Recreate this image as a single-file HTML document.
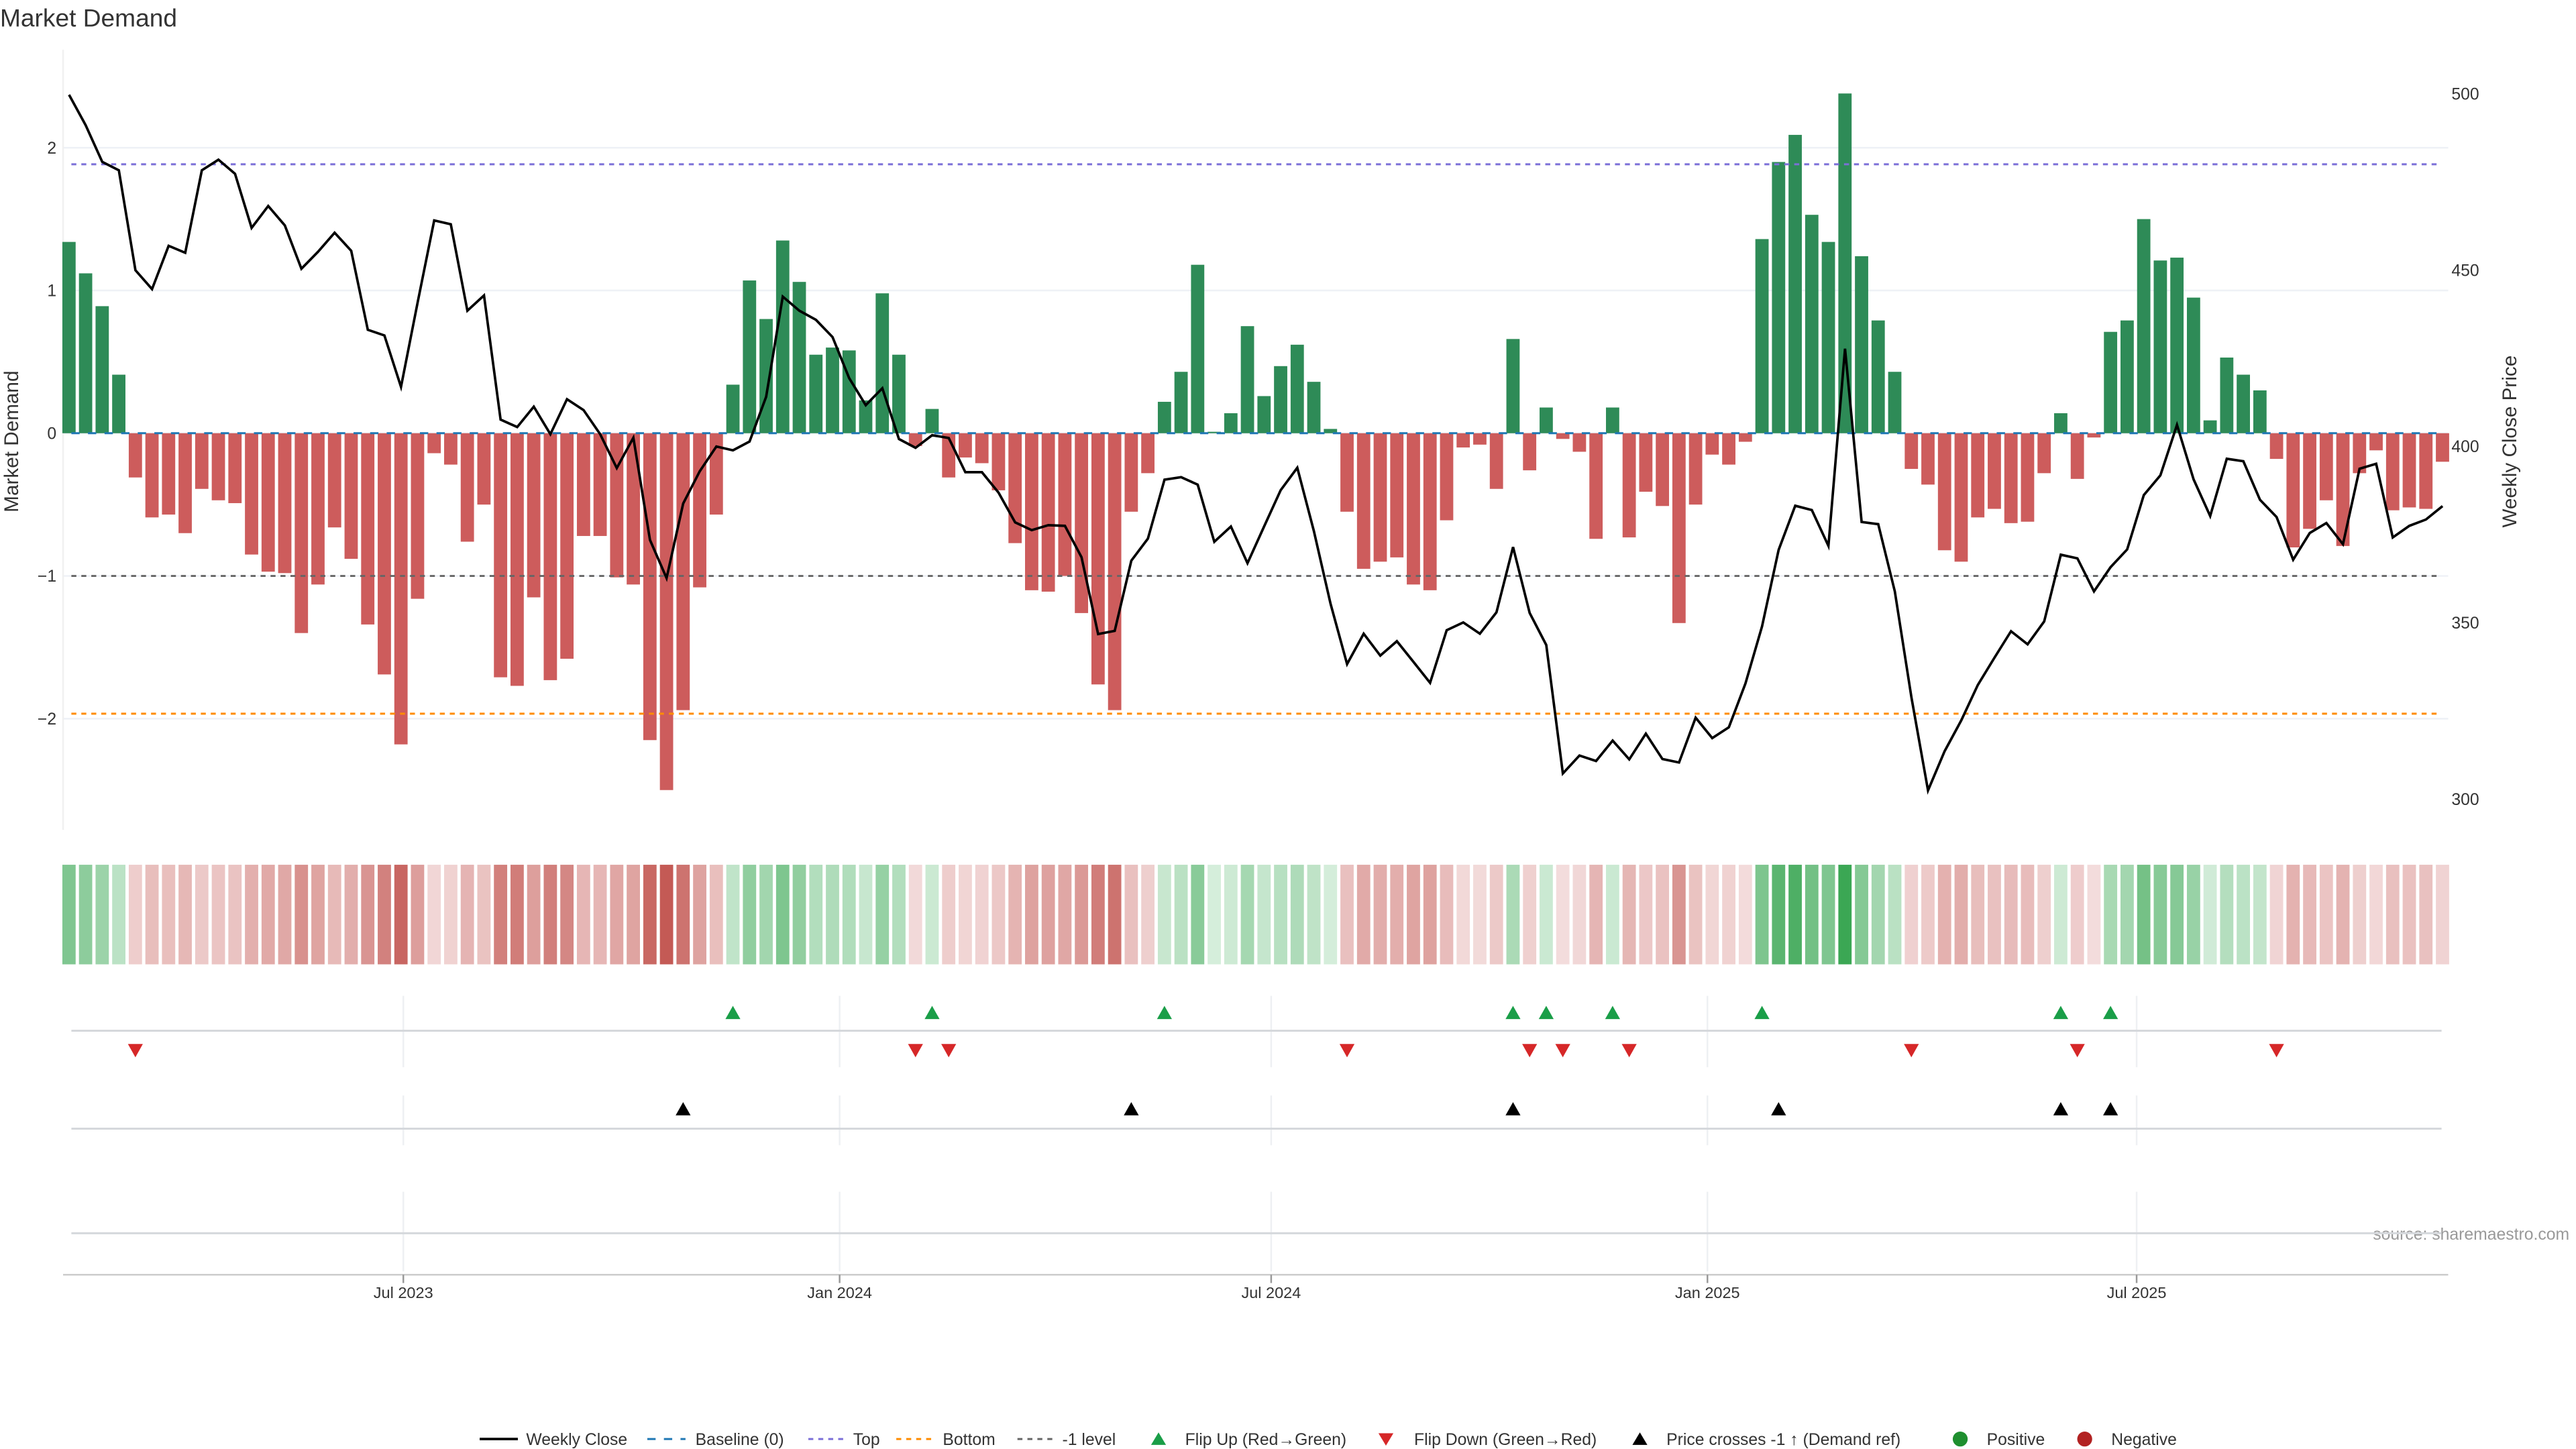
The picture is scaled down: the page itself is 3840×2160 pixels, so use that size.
<!DOCTYPE html>
<html><head><meta charset="utf-8"><title>Market Demand</title>
<style>
html,body{margin:0;padding:0;background:#fff;}
svg{display:block;font-family:"Liberation Sans","DejaVu Sans",sans-serif;}
</style></head>
<body>
<svg id="chart" width="3840" height="2160" viewBox="0 0 1552 873" xmlns="http://www.w3.org/2000/svg">
<text x="0" y="16" font-size="15" fill="#333">Market Demand</text>
<text x="0" y="0" font-size="12" fill="#333" text-anchor="middle" transform="translate(11,266) rotate(-90)">Market Demand</text>
<text x="0" y="0" font-size="12" fill="#333" text-anchor="middle" transform="translate(1516,266) rotate(-90)">Weekly Close Price</text>
<text x="1548" y="747" font-size="10" fill="#999" text-anchor="end">source: sharemaestro.com</text>
<g id="grid"></g><g id="bars"></g><g id="refs"></g><g id="line"></g><g id="heat"></g><g id="markers"></g><g id="axes"></g><g id="legend"></g>
</svg>
<script>
const startDate = '2023-02-10';
const demand = [1.34,1.12,0.89,0.41,-0.31,-0.59,-0.57,-0.70,-0.39,-0.47,-0.49,-0.85,-0.97,-0.98,-1.40,-1.06,-0.66,-0.88,-1.34,-1.69,-2.18,-1.16,-0.14,-0.22,-0.76,-0.50,-1.71,-1.77,-1.15,-1.73,-1.58,-0.72,-0.72,-1.01,-1.06,-2.15,-2.50,-1.94,-1.08,-0.57,
0.34,1.07,0.80,1.35,1.06,0.55,0.60,0.58,0.23,0.98,0.55,-0.09,0.17,-0.31,-0.17,-0.21,-0.40,-0.77,-1.10,-1.11,-1.00,-1.26,-1.76,-1.94,-0.55,-0.28,0.22,0.43,1.18,0.01,
0.14,0.75,0.26,0.47,0.62,0.36,0.03,-0.55,-0.95,-0.90,-0.87,-1.06,-1.10,-0.61,-0.10,-0.08,-0.39,0.66,-0.26,0.18,-0.04,-0.13,-0.74,0.18,-0.73,-0.41,-0.51,-1.33,-0.50,-0.15,
-0.22,-0.06,1.36,1.90,2.09,1.53,1.34,2.38,1.24,0.79,0.43,-0.25,-0.36,-0.82,-0.90,-0.59,-0.53,-0.63,-0.62,-0.28,0.14,-0.32,-0.03,0.71,0.79,1.50,1.21,1.23,0.95,0.09,0.53,0.41,
0.30,-0.18,-0.80,-0.67,-0.47,-0.79,-0.28,-0.12,-0.54,-0.52,-0.53,-0.20];
const price = [499.7,491.1,480.7,478.3,450.0,444.6,456.9,454.9,478.3,481.3,477.3,462.0,468.2,462.7,450.4,455.2,460.6,455.5,433.1,431.5,416.9,440.8,464.1,463.0,438.5,442.8,407.6,405.5,411.3,403.5,413.4,410.3,403.5,393.9,402.5,373.5,362.7,383.8,393.0,400.0,
398.9,401.4,414.1,442.5,438.5,435.9,431.0,419.4,411.7,416.5,402.1,399.6,403.2,402.4,392.7,392.7,386.9,378.5,376.3,377.7,377.5,368.6,346.8,347.7,367.6,373.9,390.6,391.3,389.2,373.0,
377.3,366.9,377.3,387.6,394.0,376.0,355.5,338.3,346.9,340.7,344.8,338.9,333.0,347.9,350.1,346.9,353.0,371.5,352.8,343.7,307.3,312.4,310.8,316.6,311.3,318.6,311.4,310.4,323.1,317.3,
320.4,332.8,349.0,370.7,383.2,382.0,371.8,427.7,378.6,378.0,358.9,328.9,302.5,313.6,322.3,332.4,340.1,347.6,343.9,350.4,369.3,368.3,358.9,365.8,370.8,386.2,391.8,406.1,390.7,380.3,
396.5,395.8,384.9,380.0,367.9,375.5,378.3,372.3,393.7,395.1,374.2,377.5,379.3,383.1];
const demandTicks = [2,1,0,-1,-2];
const priceTicks = [500,450,400,350,300];
const dateTicks = ['2023-07-01','2024-01-01','2024-07-01','2025-01-01','2025-07-01'];
const dateTickLabels = ['Jul 2023','Jan 2024','Jul 2024','Jan 2025','Jul 2025'];
const topLevel = 1.884, bottomLevel = -1.965, minusOneLevel = -1;
const priceRefLevel = 363.3;

const NS='http://www.w3.org/2000/svg';
function mk(parent,tag,attrs){const e=document.createElementNS(NS,tag);for(const k in attrs)e.setAttribute(k,attrs[k]);parent.appendChild(e);return e;}
const DAY=86400000, T0=Date.parse('2023-07-01');
function xDate(ms){return 243+(ms-T0)/(7*DAY)*10;}
function dateOf(i){return Date.parse(startDate)+i*7*DAY;}
function xi(i){return xDate(dateOf(i));}
function yD(v){return 261-v*86;}
function yP(p){return 269-(p-400)*2.125;}
const L=38,R=1475;
const g=id=>document.getElementById(id);

// grid
for(const t of demandTicks){
  const gl=mk(g('grid'),'line',{x1:L,x2:R,y1:yD(t),y2:yD(t),stroke:'#eef1f6','stroke-width':1});
  
  
}
const ax=mk(g('grid'),'line',{x1:L,x2:L,y1:30,y2:500,stroke:'#f0f0f0','stroke-width':1});



// bars
demand.forEach((v,i)=>{
  const y0=yD(0),y1=yD(v);
  const b=mk(g('bars'),'rect',{x:xi(i)-4,y:Math.min(y0,y1),width:8,height:Math.max(0.5,Math.abs(y1-y0)),fill:v>=0?'#2e8b57':'#cd5c5c'});
  
  
});

// reference lines
function ref(y,color,dash,name){
  const r=mk(g('refs'),'line',{x1:43,x2:1471,y1:y,y2:y,stroke:color,'stroke-width':1.2,'stroke-dasharray':dash});
  
  
}
ref(yD(0),'#1f77b4','5,5','baseline-zero');
ref(yD(topLevel),'#7b6fd8','3,3','top-level-line');
ref(yD(bottomLevel),'#ff8c00','3,3','bottom-level-line');
ref(yD(minusOneLevel),'#666','3,3','minus-one-level-line');

// price line
const pts=price.map((p,i)=>xi(i).toFixed(1)+','+yP(p).toFixed(1)).join(' ');
const pl=mk(g('line'),'polyline',{points:pts,fill:'none',stroke:'#000','stroke-width':1.5,'stroke-linejoin':'miter'});



// heat strip
function mix(a,b,t){return 'rgb('+a.map((c,k)=>Math.round(c+(b[k]-c)*t)).join(',')+')';}
demand.forEach((v,i)=>{
  const t=Math.min(Math.abs(v)/2.4,1);
  const col=v>=0?mix([214,238,220],[58,166,83],t):mix([244,222,222],[196,90,85],t);
  const c=mk(g('heat'),'rect',{x:xi(i)-4,y:521,width:8,height:60,fill:col});
  
  
});

// marker panel grid
for(const d of dateTicks){
  const x=xDate(Date.parse(d));
  for(const [a,b] of [[600,643],[660,690],[718,766]]){
    const vl=mk(g('markers'),'line',{x1:x,x2:x,y1:a,y2:b,stroke:'#eef0f3','stroke-width':1});
    
    
  }
}
for(const y of [621,680,743]){
  const hl=mk(g('markers'),'line',{x1:43,x2:1471,y1:y,y2:y,stroke:'#d5d8dc','stroke-width':1.2});
  
  
}
function tri(x,y,up,color,name){
  const p=up?`${x-4.5},${y+4} ${x+4.5},${y+4} ${x},${y-4}`:`${x-4.5},${y-4} ${x+4.5},${y-4} ${x},${y+4}`;
  const t=mk(g('markers'),'polygon',{points:p,fill:color});
  
  
}
for(let i=1;i<demand.length;i++){
  if(demand[i-1]<0&&demand[i]>0)tri(xi(i),610,true,'#1a9e48','flip-up-marker');
  if(demand[i-1]>0&&demand[i]<0)tri(xi(i),633,false,'#d62728','flip-down-marker');
  if(price[i-1]<priceRefLevel&&price[i]>=priceRefLevel)tri(xi(i),668,true,'#000','price-cross-marker');
}

// axes
const xa=mk(g('axes'),'line',{x1:L,x2:R,y1:768,y2:768,stroke:'#ccc','stroke-width':1});


dateTicks.forEach((d,k)=>{
  const x=xDate(Date.parse(d));
  const tk=mk(g('axes'),'line',{x1:x,x2:x,y1:768,y2:773,stroke:'#999','stroke-width':1});
  
  
  const tl=mk(g('axes'),'text',{x:x,y:782,'font-size':9.5,fill:'#333','text-anchor':'middle'});
  tl.textContent=dateTickLabels[k];
  
  
});
demandTicks.forEach(t=>{
  const tl=mk(g('axes'),'text',{x:34,y:yD(t)+3.5,'font-size':10,fill:'#333','text-anchor':'end'});
  tl.textContent=t<0?'\u2212'+Math.abs(t):String(t);
  
  
});
priceTicks.forEach(t=>{
  const tl=mk(g('axes'),'text',{x:1477,y:yP(t)+3.5,'font-size':10,fill:'#333'});
  tl.textContent=String(t);
  
  
});

// legend
const lg=g('legend');const LY=867;
function ltext(x,s){const t=mk(lg,'text',{x:x,y:LY+3.5,'font-size':10,fill:'#333'});t.textContent=s;}
function lline(x,color,dash,w,name){const l=mk(lg,'line',{x1:x,x2:x+23,y1:LY,y2:LY,stroke:color,'stroke-width':w,'stroke-dasharray':dash});}
function ltri(x,up,color,name){const p=up?`${x-4.5},${LY+3.5} ${x+4.5},${LY+3.5} ${x},${LY-4}`:`${x-4.5},${LY-3.5} ${x+4.5},${LY-3.5} ${x},${LY+4}`;const t=mk(lg,'polygon',{points:p,fill:color});}
function ldot(x,color,name){const c=mk(lg,'circle',{cx:x,cy:LY,r:4.5,fill:color});}
lline(289,'#000','none',1.5,'legend-weekly-close');ltext(317,'Weekly Close');
lline(390,'#1f77b4','5,5',1.2,'legend-baseline');ltext(419,'Baseline (0)');
lline(487,'#7b6fd8','3,3',1.2,'legend-top');ltext(514,'Top');
lline(540,'#ff8c00','3,3',1.2,'legend-bottom');ltext(568,'Bottom');
lline(613,'#666','3,3',1.2,'legend-minus-one');ltext(640,'-1 level');
ltri(698,true,'#1a9e48','legend-flip-up');ltext(714,'Flip Up (Red\u2192Green)');
ltri(835,false,'#d62728','legend-flip-down');ltext(852,'Flip Down (Green\u2192Red)');
ltri(988,true,'#000','legend-price-cross');ltext(1004,'Price crosses -1 \u2191 (Demand ref)');
ldot(1181,'#1f8f2f','legend-positive');ltext(1197,'Positive');
ldot(1256,'#b22222','legend-negative');ltext(1272,'Negative');
</script>
</body></html>
